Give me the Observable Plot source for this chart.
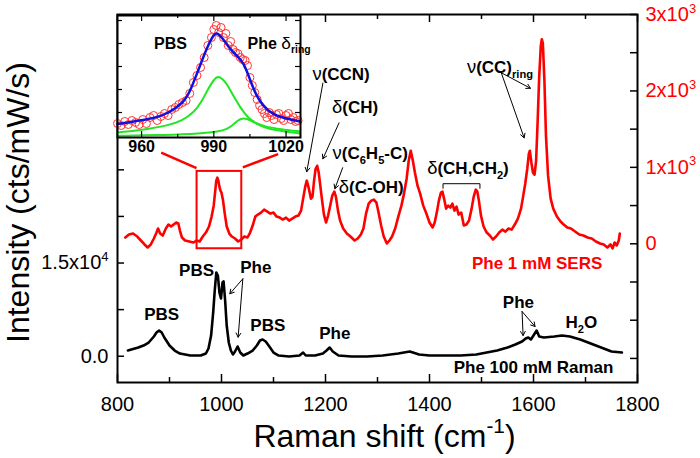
<!DOCTYPE html>
<html><head><meta charset="utf-8">
<script src="https://cdn.jsdelivr.net/npm/d3@7"></script>
<script src="https://cdn.jsdelivr.net/npm/@observablehq/plot@0.6"></script>
<style>
body{margin:0;background:#fff;}
#chart{position:relative;width:700px;height:458px;font-family:"Liberation Sans",Arial,sans-serif;}
#chart svg{position:absolute;}
</style></head><body><div id="chart"></div>
<script>
// ---------- DATA ----------
// Phe 100 mM Raman (left axis, cts/mW/s)
const ramanShift = [820,840,850,860,870,875,880,885,890,900,910,920,940,960,970,975,980,984,987,990,993,996,999,1002,1004,1007,1010,1014,1018,1022,1026,1031,1036,1042,1050,1060,1068,1074,1079,1085,1092,1100,1110,1130,1150,1157,1162,1180,1195,1202,1208,1214,1225,1250,1280,1310,1340,1362,1380,1400,1430,1460,1490,1510,1530,1550,1565,1578,1585,1590,1595,1600,1606,1611,1620,1640,1655,1670,1690,1710,1730,1750,1770];
const ramanIntensity = [918,1400,1723,2206,3172,3816,4138,3816,3011,1723,918,435,113,113,435,1240,3333,7036,10578,13476,12993,10256,9290,11866,12027,8968,4943,2206,918,274,757,1562,596,113,435,918,1723,2528,2689,2367,1562,596,113,-48,113,596,113,113,435,918,1400,757,113,-48,-48,113,435,757,274,113,113,113,274,596,918,1400,1884,2367,2850,3011,2689,3333,4138,3172,3011,3172,3333,3172,2689,2045,1400,757,596];
// Phe 1 mM SERS (right axis)
const sersShift = [815,822,830,838,845,852,858,864,870,875,878,882,887,893,898,903,908,913,917,920,924,930,938,946,952,958,964,970,976,981,985,988,990,992,994,996,998,1000,1003,1006,1010,1015,1020,1026,1032,1038,1044,1050,1055,1060,1065,1070,1076,1082,1088,1094,1100,1106,1112,1118,1124,1130,1136,1142,1148,1153,1157,1161,1164,1168,1172,1175,1178,1181,1184,1187,1190,1193,1197,1201,1205,1209,1213,1217,1220,1224,1228,1234,1241,1248,1256,1262,1268,1273,1278,1283,1288,1293,1298,1302,1307,1312,1318,1323,1328,1334,1340,1346,1351,1356,1360,1364,1368,1372,1377,1382,1388,1394,1400,1406,1410,1414,1418,1422,1425,1428,1432,1436,1440,1444,1448,1452,1456,1461,1466,1471,1476,1481,1485,1489,1492,1495,1499,1504,1510,1516,1522,1528,1534,1540,1546,1552,1558,1564,1570,1576,1580,1584,1588,1591,1593,1596,1599,1602,1605,1608,1611,1614,1616,1618,1621,1624,1628,1633,1638,1645,1652,1658,1665,1672,1680,1688,1696,1704,1712,1720,1728,1735,1742,1748,1752,1756,1760,1764,1766];
const sersIntensity = [82,121,134,95,43,-9,-48,-9,69,147,200,134,108,200,252,226,252,278,265,173,82,43,30,17,43,30,95,147,226,356,499,695,826,865,826,747,695,669,565,408,226,134,95,69,30,56,95,82,147,239,356,382,408,447,421,395,408,356,343,317,343,304,330,356,369,434,591,747,826,721,591,617,826,982,1021,930,760,591,382,278,369,499,630,682,617,434,304,200,134,95,43,69,121,200,395,526,565,578,538,408,239,95,4,43,95,200,356,499,656,852,1086,1217,1086,930,760,656,499,395,278,213,278,408,565,669,682,591,460,499,473,526,434,486,382,408,239,252,304,460,617,708,682,565,369,226,147,108,56,95,147,186,160,200,186,252,330,460,617,782,982,1177,1217,1060,930,904,1086,1608,2194,2585,2677,2624,2129,1412,891,591,460,356,291,252,213,200,160,121,108,82,69,30,4,-9,-48,-9,-61,17,-22,43,134];
// Inset (arb. units): measured points, fitted sum and two components
const insetPtsX = [950,951.5,953,954.5,956,957.5,959,960.5,962,963.5,965,966.5,968,969.5,971,972.5,974,975.5,977,978.5,980,981.5,983,984.5,986,987.5,989,990,991,992,993,994,995,996,997,998,999,1000,1001,1002,1003,1004,1005,1006,1007,1008,1009,1010,1011,1012,1013,1014,1015,1016,1017,1018,1019,1020,1021,1022,1023,1024,1025];
const insetPtsY = [14,12,16,13,17,15,13,18,14,20,22,17,21,24,22,28,30,33,35,37,44,55,62,70,80,92,100,108,112,105,110,100,104,92,96,88,85,84,80,78,77,72,60,52,45,38,32,28,24,20,25,22,18,23,24,19,17,22,24,18,20,16,17];
const fitX = [950,963.8,970.7,977.6,980.3,984.5,987.2,990,991.4,993.4,996.2,999.6,1002.4,1005.2,1007.9,1012.1,1017.6,1025.8];
const fitY = [13.4,18.4,23.4,35,46.7,73.4,90,103.4,105,100,90,81.7,75,56.7,40,26.7,20,16];
const comp1X = [950,960,970.7,977,981.7,985,987.2,989.5,991.4,993.5,995.5,998,1001,1004,1007.9,1012,1017.6,1025.8];
const comp1Y = [5,7.5,11.7,17,25,36,46.7,56,61.7,59,53.4,42,30,20,13.4,10.5,8.4,6];
const comp2X = [950,970,984.5,992,995.5,998,999.6,1002.1,1005.2,1009.3,1013,1017.6,1025.8];
const comp2Y = [1.7,2.5,4,6,8.4,12.5,16.7,20,17.4,11.7,8.5,6.7,4];
// tick values
const xTickLabels = [800,1000,1200,1400,1600,1800];
const xMinor = [900,1100,1300,1500,1700];
const leftTickLabels = [0,15000];
const leftTicks = [0,7500,15000,22500,30000,37500,45000,52500];
const rightTickLabels = [0,1000,2000,3000];
const rightTicks = [-1500,-1000,-500,0,500,1000,1500,2000,2500,3000];
const insetTickLabels = [960,990,1020];
const insetMinor = [975,1005];
const insetYTicks = [25,48,71,94,117];
// annotations: SERS (right-axis units)
const sersLabels = ["ν(CCN)","δ(CH)","ν(C_{6}H_{5}-C)","δ(C-OH)","δ(CH,CH_{2})"];
const sersLabelX = [1230,1257,1286,1288,1474];
const sersLabelY = [2220,1777,1176,734,982];
const sersArrows = [
  {x1:1195,y1:2103,x2:1164,y2:943},
  {x1:1226,y1:1582,x2:1195,y2:1112},
  {x1:1233,y1:995,x2:1218,y2:721},
  {x1:1538,y1:2238,x2:1594,y2:2035},
  {x1:1538,y1:2238,x2:1582,y2:1386}
];
const bracket = {x1:1426,x2:1497,y:786,yEnd:721};
const ringLabel = {text:"ν(CC)_{ring}", x:1472, y:2311};
const sersName = {text:"Phe 1 mM SERS", x:1607, y:-257};
const zoomBox = {x1:953,x2:1039,y1:-65,y2:947};
const zoomLinks = [{x1:884,y1:1194,x2:952,y2:991},{x1:1041,y1:999,x2:1109,y2:1174}];
// annotations: Raman (left-axis units)
const ramanLabels = ["PBS","PBS","Phe","PBS","Phe","Phe","H_{2}O","Phe 100 mM Raman"];
const ramanLabelX = [885,952,1066,1089,1218,1571,1692,1600];
const ramanLabelY = [6714,13798,14281,4943,3655,8646,5442,-1819];
const ramanArrows = [
  {x1:1041,y1:12461,x2:1016,y2:10046},
  {x1:1041,y1:12461,x2:1032,y2:3059},
  {x1:1578,y1:7197,x2:1580,y2:3333},
  {x1:1578,y1:7197,x2:1603,y2:4782}
];

// ---------- LAYOUT ----------
const W=700,H=458,mL=117,mR=63,mT=14,mB=76;
const pw=W-mL-mR, ph=H-mT-mB;
const FONT='"Liberation Sans", Arial, sans-serif';
const RED="#ff0000";

function xTicks(vals,len,stroke="black"){
  return [Plot.tickX(vals,{x:d=>d,insetTop:ph-len,stroke,strokeWidth:1.5}),
          Plot.tickX(vals,{x:d=>d,insetBottom:ph-len,stroke,strokeWidth:1.5})];
}
function fmtLeft(d){ return d===0?"0.0":(d/1e4).toFixed(1)+"x10^{4}"; }
function fmtRight(d){ return d===0?"0":(d/1000)+"x10^{3}"; }

const main = Plot.plot({
  width:W,height:H,marginLeft:mL,marginRight:mR,marginTop:mT,marginBottom:mB,
  style:{fontFamily:FONT,background:"white",overflow:"visible"},
  x:{domain:[800,1800]},
  y:{domain:[-4230,55000]},
  marks:[
    Plot.line(ramanShift.map((x,i)=>({x,y:ramanIntensity[i]})),{x:"x",y:"y",stroke:"black",strokeWidth:2.6,curve:"linear"}),
    Plot.frame({stroke:"black",strokeWidth:2}),
    ...xTicks(xTickLabels,8), ...xTicks(xMinor,5),
    Plot.tickY(leftTicks,{y:d=>d,insetRight:pw-7,strokeWidth:1.5}),
    Plot.axisX({ticks:xTickLabels,tickSize:0,tickPadding:14,fontSize:20,tickFormat:d=>String(d),label:null}),
    Plot.axisY({ticks:leftTickLabels,tickSize:0,tickPadding:9,fontSize:20,tickFormat:fmtLeft,label:null}),
    Plot.text(["Intensity (cts/mW/s)"],{frameAnchor:"left",textAnchor:"middle",lineAnchor:"middle",rotate:-90,dx:-99,dy:4,fontSize:32}),
    Plot.text(["Raman shift (cm^{-1})"],{frameAnchor:"bottom",textAnchor:"middle",lineAnchor:"middle",dx:7,dy:54,fontSize:32}),
    Plot.arrow(ramanArrows,{x1:"x1",y1:"y1",x2:"x2",y2:"y2",stroke:"black",strokeWidth:1,headLength:7,insetEnd:0}),
    Plot.text(ramanLabels,{x:(d,i)=>ramanLabelX[i],y:(d,i)=>ramanLabelY[i],text:d=>d,fontSize:17,fontWeight:"bold",fill:"black"})
  ]
});

const red = Plot.plot({
  width:W,height:H,marginLeft:mL,marginRight:mR,marginTop:mT,marginBottom:mB,
  style:{fontFamily:FONT,background:"transparent",overflow:"visible"},
  x:{domain:[800,1800]},
  y:{domain:[-1815,3000]},
  marks:[
    Plot.line(sersShift.map((x,i)=>({x,y:sersIntensity[i]})),{x:"x",y:"y",stroke:RED,strokeWidth:2.6}),
    Plot.rect([zoomBox],{x1:"x1",x2:"x2",y1:"y1",y2:"y2",fill:"none",stroke:RED,strokeWidth:2}),
    Plot.link(zoomLinks,{x1:"x1",y1:"y1",x2:"x2",y2:"y2",stroke:RED,strokeWidth:2.5}),
    Plot.tickY(rightTicks,{y:d=>d,insetLeft:pw-7,strokeWidth:1.5,stroke:"black"}),
    Plot.axisY({anchor:"right",ticks:rightTickLabels,tickSize:0,tickPadding:8,fontSize:20,tickFormat:fmtRight,fill:RED,label:null}),
    Plot.axisX({ticks:[],label:null}),
    Plot.arrow(sersArrows,{x1:"x1",y1:"y1",x2:"x2",y2:"y2",stroke:"black",strokeWidth:1,headLength:7}),
    Plot.link([bracket],{x1:"x1",x2:"x2",y1:"y",y2:"y",stroke:"black",strokeWidth:1}),
    Plot.link([bracket,bracket],{x1:(d,i)=>i?d.x2:d.x1,x2:(d,i)=>i?d.x2:d.x1,y1:"y",y2:"yEnd",stroke:"black",strokeWidth:1}),
    Plot.text(sersLabels,{x:(d,i)=>sersLabelX[i],y:(d,i)=>sersLabelY[i],text:d=>d,fontSize:17,fontWeight:"bold",fill:"black"}),
    Plot.text([ringLabel],{x:"x",y:"y",text:"text",textAnchor:"start",fontSize:17,fontWeight:"bold",fill:"black"}),
    Plot.text([sersName],{x:"x",y:"y",text:"text",fontSize:17,fontWeight:"bold",fill:RED})
  ]
});

const iw=183, ih=122;
const inset = Plot.plot({
  width:iw+3,height:ih+26,marginLeft:1,marginRight:2,marginTop:1,marginBottom:25,
  style:{fontFamily:FONT,background:"transparent",overflow:"visible"},
  x:{domain:[950,1026]},
  y:{domain:[0,122]},
  marks:[
    Plot.frame({fill:"white",stroke:"none"}),
    Plot.line(comp1X.map((x,i)=>({x,y:comp1Y[i]})),{x:"x",y:"y",stroke:"#22e622",strokeWidth:2,curve:"basis"}),
    Plot.line(comp2X.map((x,i)=>({x,y:comp2Y[i]})),{x:"x",y:"y",stroke:"#22e622",strokeWidth:2,curve:"basis"}),
    Plot.dot(insetPtsX.map((x,i)=>({x,y:insetPtsY[i]})),{x:"x",y:"y",r:4,stroke:"#ff3333",strokeWidth:1,fill:"none"}),
    Plot.line(fitX.map((x,i)=>({x,y:fitY[i]})),{x:"x",y:"y",stroke:"#1010e0",strokeWidth:2.5,curve:"basis"}),
    Plot.frame({stroke:"black",strokeWidth:2}),
    Plot.tickX(insetTickLabels,{x:d=>d,insetTop:ih-6,strokeWidth:1.2}),
    Plot.tickX(insetTickLabels,{x:d=>d,insetBottom:ih-6,strokeWidth:1.2}),
    Plot.tickX(insetMinor,{x:d=>d,insetTop:ih-3,strokeWidth:1.2}),
    Plot.tickX(insetMinor,{x:d=>d,insetBottom:ih-3,strokeWidth:1.2}),
    Plot.tickY(insetYTicks,{y:d=>d,insetLeft:iw-5,strokeWidth:1.2}),
    Plot.tickY(insetYTicks,{y:d=>d,insetRight:iw-5,strokeWidth:1.2}),
    Plot.axisX({ticks:insetTickLabels,tickSize:0,tickPadding:3,fontSize:16,fontWeight:"bold",label:null,tickFormat:d=>String(d)}),
    Plot.axisY({ticks:[],label:null}),
    Plot.text(["PBS"],{x:[972],y:[94],fontSize:16,fontWeight:"bold"}),
    Plot.text(["Phe δ_{ring}"],{x:[1004],y:[94],textAnchor:"start",fontSize:16,fontWeight:"bold"})
  ]
});

const chart=document.getElementById("chart");
main.style.left="0px";main.style.top="0px";
red.style.left="0px";red.style.top="0px";
inset.style.left="116px";inset.style.top="14px";
chart.append(main,red,inset);

// rich text: ^{..} superscript, _{..} subscript, Greek letters in regular weight
function richify(svg){
  d3.select(svg).selectAll("text").each(function(){
    const s=this.textContent;
    if(!/[\^_]\{|[νδ]/.test(s)) return;
    const fs=parseFloat(getComputedStyle(this).fontSize)||16;
    const t=d3.select(this);
    this.textContent="";
    const re=/([\^_])\{([^}]*)\}|([νδ])/g;
    let last=0,m,cur=0;
    const seg=(txt,target,small,greek)=>{
      const ts=t.append("tspan").text(txt);
      const dy=target-cur; if(dy) ts.attr("dy",dy.toFixed(2)); cur=target;
      if(small) ts.attr("font-size",(fs*0.65).toFixed(1));
      if(greek) ts.attr("font-weight","normal").attr("font-size",(fs*1.08).toFixed(1));
    };
    while((m=re.exec(s))){
      if(m.index>last) seg(s.slice(last,m.index),0,false,false);
      if(m[3]) seg(m[3],0,false,true);
      else seg(m[2],m[1]==="^"?-0.42*fs:0.3*fs,true,false);
      last=re.lastIndex;
    }
    if(last<s.length) seg(s.slice(last),0,false,false);
  });
}
[main,red,inset].forEach(richify);
</script></body></html>
